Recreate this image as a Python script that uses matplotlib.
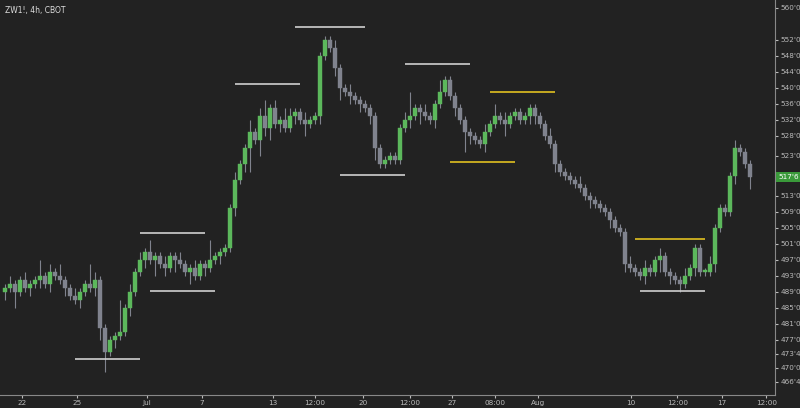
import matplotlib
matplotlib.use("Agg")
import matplotlib.pyplot as plt

# 4h closes (cents), ZW1!
closes = [490, 491, 489, 492, 490, 491,
          492, 493, 491, 494, 493, 492,
          490, 488, 487, 489, 491, 490, 492,
          480, 474,
          477, 478, 479,
          485, 489, 494, 497,
          499, 497, 498, 496, 495, 498, 497,
          496, 494, 495, 493, 496, 495,
          497, 498, 499, 500,
          510, 517,
          521, 525,
          529, 527, 533,
          530, 535, 531,
          532, 530, 533, 534, 532,
          531, 532, 533,
          548,
          552, 550, 545,
          540, 539, 538,
          537, 536, 535,
          533,
          525, 521, 522,
          523, 522,
          530, 532, 533,
          535, 534, 533, 532,
          536, 539, 542,
          538, 535, 532, 529,
          528, 527, 526,
          529, 531, 533, 532,
          531, 533, 534, 532,
          533, 535, 533,
          531, 528, 526,
          521, 519,
          518, 517, 516, 515,
          513, 512, 511,
          510, 509, 507,
          505, 504,
          496, 495, 494, 493, 495, 494,
          497, 498, 494, 493, 492, 491,
          493, 495, 500, 494,
          494, 496,
          505, 510,
          509, 518,
          525, 524, 521,
          517.75]
first_open = 489
wick_up = [1, 2, 1, 1, 2, 1, 1, 4, 1, 2, 1, 3, 1, 1, 2, 1, 1, 5, 2, 1, 1, 1, 1, 8,
           1, 2, 1, 2, 1, 3, 1, 1, 2, 1, 1, 2, 1, 1, 2, 1, 1, 5, 1, 1, 1, 1, 2, 1,
           1, 3, 1, 2, 4, 1, 2, 1, 3, 2, 1, 1, 2, 1, 1, 1, 1, 1, 2, 1, 1, 2, 1, 1,
           1, 1, 1, 1, 1, 1, 1, 1, 2, 6, 1, 1, 2, 1, 1, 3, 1, 1, 1, 1, 1, 1, 1, 1,
           2, 1, 3, 1, 2, 1, 1, 1, 1, 1, 1, 1, 1, 2, 1, 1, 1, 1, 1, 2, 1, 1, 1, 1,
           1, 1, 1, 1, 1, 2, 1, 1, 2, 1, 1, 2, 1, 1, 1, 1, 2, 1, 1, 1, 1, 2, 1, 1,
           1, 1, 2, 1, 1, 1]
wick_dn = [2, 1, 4, 1, 1, 2, 1, 2, 1, 2, 1, 1, 2, 1, 1, 2, 1, 1, 2, 3, 5, 1, 2, 1,
           1, 2, 1, 1, 2, 1, 4, 1, 2, 1, 3, 1, 1, 3, 1, 1, 2, 1, 1, 2, 1, 1, 2, 1,
           2, 6, 1, 4, 2, 3, 1, 2, 1, 1, 2, 1, 3, 1, 1, 2, 1, 1, 2, 3, 1, 2, 1, 2,
           1, 2, 3, 1, 1, 1, 1, 1, 1, 2, 1, 3, 1, 1, 2, 1, 1, 1, 2, 1, 5, 2, 1, 1,
           2, 1, 1, 1, 3, 1, 1, 1, 1, 2, 2, 1, 1, 1, 2, 1, 1, 1, 1, 1, 1, 2, 1, 1,
           1, 2, 1, 1, 2, 1, 1, 1, 2, 1, 1, 3, 1, 2, 1, 2, 1, 1, 2, 1, 1, 1, 2, 1,
           1, 1, 2, 1, 1, 3]

# drawn levels: (start index, end index, price, colour)
levels = [(14, 27, 472.3, "#cfcfcf"), (27, 40, 503.8, "#cfcfcf"), (29, 42, 489.2, "#cfcfcf"),
          (46, 59, 541.1, "#cfcfcf"), (58, 72, 555.3, "#cfcfcf"), (67, 80, 518.3, "#cfcfcf"),
          (80, 93, 546.1, "#cfcfcf"), (97, 110, 538.9, "#e0c020"), (89, 102, 521.5, "#e0c020"),
          (126, 140, 502.2, "#e0c020"), (127, 140, 489.2, "#cfcfcf")]

x_tick_pos = [3.4, 14.4, 28.4, 39.4, 53.6, 62, 71.6, 81, 89.4, 98, 106.6, 125.2, 134.4, 143.4, 152.2]
x_tick_labels = ["22", "25", "Jul", "7", "13", "12:00", "20", "12:00", "27", "08:00", "Aug",
                 "10", "12:00", "17", "12:00"]
y_ticks = [560, 552, 548, 544, 540, 536, 532, 528, 523, 513, 509, 505, 501, 497, 493,
           489, 485, 481, 477, 473.5, 470, 466.5]

BG = "#222222"
UP = "#5cb85c"
DOWN = "#80838e"


def fmt(v):
    return f"{int(v)}'{int(round((v % 1) * 8))}"


fig = plt.figure(figsize=(8, 4.08), dpi=100, facecolor=BG)
ax = fig.add_axes([0, 0.032, 0.969, 0.968], facecolor=BG)

opens = [first_open] + closes[:-1]
for i, (o, c) in enumerate(zip(opens, closes)):
    hi = max(o, c) + wick_up[i]
    lo = min(o, c) - wick_dn[i]
    col = UP if c >= o else DOWN
    ax.vlines(i, lo, hi, color=DOWN, lw=0.8, zorder=2)
    body = max(abs(c - o), 0.4)
    ax.bar(i, body, bottom=min(o, c), width=0.7, color=col, edgecolor=col, lw=0.3, zorder=3)

for s, e, p, col in levels:
    ax.hlines(p, s, e, color=col, lw=1.2, zorder=4)

ax.set_xlim(-1, 154)
ax.set_ylim(463.25, 562)
ax.yaxis.tick_right()
ax.set_yticks(y_ticks)
ax.set_yticklabels([fmt(v) for v in y_ticks])
ax.set_xticks(x_tick_pos)
ax.set_xticklabels(x_tick_labels)
ax.tick_params(colors="#bbbbbb", labelsize=5.2, length=2, pad=2)
ax.tick_params(axis="y", pad=2)
for side in ["top", "left"]:
    ax.spines[side].set_visible(False)
ax.spines["right"].set_color("#888888")
ax.spines["bottom"].set_color("#888888")

last = closes[-1]
ax.text(1.004, (last - 463.25) / (562 - 463.25), fmt(last), transform=ax.transAxes,
        fontsize=5.2, color="white", va="center", ha="left",
        bbox=dict(boxstyle="square,pad=0.25", fc="#3a9a3a", ec="none"))
ax.text(0.006, 0.985, "ZW1!, 4h, CBOT", transform=ax.transAxes, fontsize=5.5,
        color="#dddddd", va="top", ha="left")

fig.savefig("out.png", dpi=100, facecolor=BG)
